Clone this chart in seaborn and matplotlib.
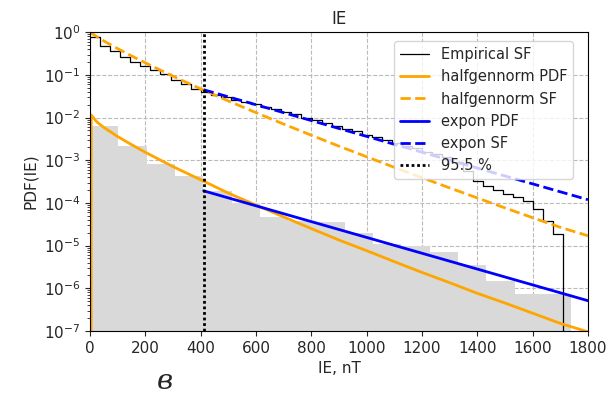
import numpy as np
import pandas as pd
import matplotlib
matplotlib.use("Agg")
import matplotlib.pyplot as plt
import seaborn as sns

# ---------------- data ----------------
bin_edges = [0, 102, 205, 307, 409, 512, 614, 716, 818, 921, 1023, 1125,
             1228, 1330, 1432, 1535, 1637, 1739]
hist_density = [6.4e-3, 2.15e-3, 8.0e-4, 4.2e-4, 1.9e-4, 1.0e-4, 4.8e-5,
                3.8e-5, 3.5e-5, 2.0e-5, 1.1e-5, 1.0e-5, 7.0e-6, 3.5e-6,
                1.45e-6, 7.4e-7, 7.4e-7]

ecdf_x = [0, 36.4, 72.8, 109.2, 145.6, 182, 218.4, 254.8, 291.2, 327.6, 364,
          400.4, 436.8, 473.2, 509.6, 546, 582.4, 618.8, 655.2, 691.6, 728,
          764.4, 800.8, 837.2, 873.6, 910, 946.4, 982.8, 1019.2, 1055.6, 1092,
          1128.4, 1164.8, 1201.2, 1237.6, 1274, 1310.4, 1346.8, 1383.2,
          1419.6, 1456, 1492.4, 1528.8, 1565.2, 1601.6, 1638, 1674.4, 1710.8]
ecdf_sf = [0.794, 0.490, 0.372, 0.269, 0.204, 0.166, 0.132, 0.105, 0.0759,
           0.0603, 0.0457, 0.0407, 0.0339, 0.0302, 0.0260, 0.0237, 0.0209,
           0.0174, 0.0158, 0.0138, 0.0123, 0.00977, 0.00891, 0.00741,
           0.00646, 0.00537, 0.00479, 0.00398, 0.00355, 0.00295, 0.00257,
           0.00214, 0.00191, 0.00158, 0.00138, 0.00117, 0.000912, 0.000562,
           0.000331, 0.000251, 0.000200, 0.000166, 0.000141, 0.000112,
           7.08e-5, 3.80e-5, 1.91e-5, 0.0]

hgn_pdf_x = [4, 4.5, 25, 50, 100, 150, 200, 300, 400, 500, 600, 700, 800,
             900, 1000, 1100, 1200, 1300, 1400, 1500, 1600, 1700, 1800]
hgn_pdf = [1e-9, 1.15e-2, 7.9e-3, 5.9e-3, 3.6e-3, 2.33e-3, 1.54e-3, 7.1e-4,
           3.5e-4, 1.7e-4, 8.9e-5, 4.7e-5, 2.5e-5, 1.35e-5, 7.6e-6, 4.2e-6,
           2.35e-6, 1.35e-6, 7.6e-7, 4.5e-7, 2.6e-7, 1.5e-7, 9.5e-8]

hgn_sf_x = [0, 50, 100, 150, 200, 300, 400, 500, 600, 700, 800, 900, 1000,
            1100, 1200, 1300, 1400, 1500, 1600, 1700, 1800]
hgn_sf = [1.0, 0.628, 0.415, 0.280, 0.193, 0.0934, 0.0473, 0.0246, 0.0131,
          0.00706, 0.00387, 0.00214, 0.00121, 0.000683, 0.000391, 0.000225,
          0.000131, 7.64e-5, 4.5e-5, 2.68e-5, 1.7e-5]

exp_x = [411, 1800]
exp_pdf = [1.92e-4, 5.1e-7]
exp_sf = [0.045, 1.19e-4]

threshold = 411
threshold_label = "95.5 %"
x_ticks = [0, 200, 400, 600, 800, 1000, 1200, 1400, 1600, 1800]

# ---------------- figure ----------------
sns.set_style("ticks")
plt.rcParams["font.family"] = ["DejaVu Sans"]

fig = plt.figure(figsize=(6.15, 4.04), dpi=100)
ax = fig.add_axes([0.1463, 0.181, 0.8097, 0.739])

centers = [(a + b) / 2 for a, b in zip(bin_edges[:-1], bin_edges[1:])]
sns.histplot(x=centers, weights=hist_density, bins=bin_edges, stat="count",
             color="#d9d9d9", alpha=1.0, edgecolor=None, linewidth=0, ax=ax)

sns.lineplot(x=ecdf_x, y=ecdf_sf, color="black", lw=0.9,
             drawstyle="steps-post", estimator=None, sort=False,
             label="Empirical SF", ax=ax)
sns.lineplot(x=hgn_pdf_x, y=hgn_pdf, color="orange", lw=2,
             estimator=None, sort=False, label="halfgennorm PDF", ax=ax)
sns.lineplot(x=hgn_sf_x, y=hgn_sf, color="orange", lw=2, linestyle="--",
             estimator=None, sort=False, label="halfgennorm SF", ax=ax)
sns.lineplot(x=exp_x, y=exp_pdf, color="blue", lw=2,
             estimator=None, sort=False, label="expon PDF", ax=ax)
sns.lineplot(x=exp_x, y=exp_sf, color="blue", lw=2, linestyle="--",
             estimator=None, sort=False, label="expon SF", ax=ax)
ax.axvline(threshold, color="black", lw=2, linestyle=(0, (1, 1)),
           label=threshold_label)

ax.set_yscale("log")
ax.set_xlim(0, 1800)
ax.set_ylim(1e-7, 1)
ax.set_xticks(x_ticks)
ax.tick_params(labelsize=11)
ax.grid(True, which="major", linestyle="--", color="#bbbbbb", lw=0.8)

ax.set_title("IE", fontsize=12)
ax.set_xlabel("IE, nT", fontsize=11)
ax.set_ylabel("PDF(IE)", fontsize=11)
for s in ax.spines.values():
    s.set_visible(True)
    s.set_color("black")

ax.legend(loc="upper right", fontsize=10.5, framealpha=0.8,
          bbox_to_anchor=(0.985, 0.995))

fig.text(0.268, 0.055, "в", fontsize=20, fontstyle="italic",
         family=["DejaVu Serif", "DejaVu Sans"],
         ha="center", va="center")

fig.savefig("out.png", dpi=100)
